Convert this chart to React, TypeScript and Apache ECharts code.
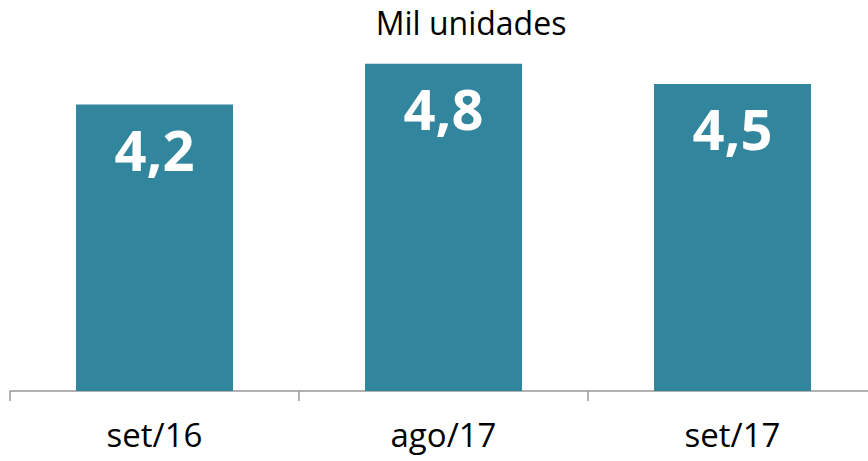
import React, { useEffect, useRef } from "react";
import * as echarts from "echarts";

const categories = ["set/16", "ago/17", "set/17"];
const values = [4.2, 4.8, 4.5];
const unitLabel = "Mil unidades";

export default function App() {
  const ref = useRef<HTMLDivElement>(null);
  useEffect(() => {
    if (!ref.current) return;
    const chart = echarts.init(ref.current, null, { renderer: "svg" });
    chart.setOption({
      animation: false,
      title: {
        text: unitLabel,
        left: 466,
        top: 1,
        textAlign: "center",
        textStyle: { fontFamily: "Open Sans", fontWeight: "normal", fontSize: 32, color: "#000" },
      },
      grid: { left: 10, right: 0, top: 50, bottom: 70, outerBoundsMode: "none" },
      xAxis: {
        type: "category",
        data: categories,
        axisLine: { lineStyle: { color: "#999", width: 1.5 } },
        axisTick: { show: true, length: 10, lineStyle: { color: "#999", width: 1.5 } },
        axisLabel: { fontFamily: "Open Sans", fontSize: 33, color: "#000", margin: 27 },
      },
      yAxis: {
        type: "value",
        min: 0,
        max: 5,
        show: false,
        splitLine: { show: false },
      },
      series: [
        {
          type: "bar",
          data: values,
          barWidth: 157,
          itemStyle: { color: "#31859C" },
          label: {
            show: true,
            position: "insideTop",
            distance: 16,
            formatter: (p: any) => String(p.value).replace(".", ","),
            fontFamily: "Open Sans",
            fontWeight: "bold",
            fontSize: 56,
            color: "#fff",
          },
        },
      ],
    });
    return () => chart.dispose();
  }, []);
  return (
    <div style={{ width: 868, height: 461, position: "absolute", left: 0, top: 0, overflow: "hidden" }}>
      <div ref={ref} style={{ width: 877, height: 461 }} />
    </div>
  );
}
